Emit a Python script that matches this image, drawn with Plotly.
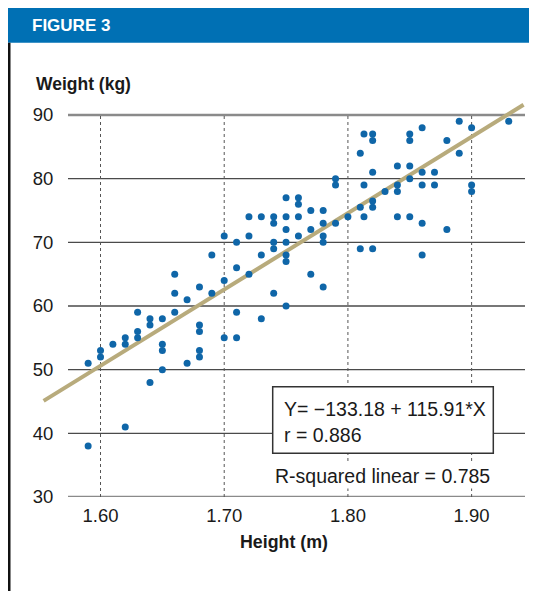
import plotly.graph_objects as go

# ---------------- data ----------------
heights = [
    1.69, 1.70, 1.66, 1.66, 1.68, 1.69, 1.67, 1.63, 1.66, 1.64, 1.65, 1.64, 1.63, 1.63, 1.68, 1.68,
    1.70, 1.61, 1.62, 1.62, 1.65, 1.65, 1.60, 1.60, 1.68, 1.68, 1.59, 1.67, 1.65, 1.64, 1.62, 1.59,
    1.79, 1.75, 1.76, 1.76, 1.77, 1.78, 1.72, 1.73, 1.74, 1.75, 1.76, 1.74, 1.78, 1.79, 1.75, 1.77,
    1.70, 1.72, 1.76, 1.78, 1.71, 1.74, 1.75, 1.78, 1.74, 1.73, 1.75, 1.75, 1.71, 1.72, 1.77, 1.78,
    1.74, 1.75, 1.71, 1.73, 1.71,
    1.89, 1.93, 1.90, 1.86, 1.813, 1.82, 1.85, 1.82, 1.85, 1.88, 1.81, 1.89, 1.84, 1.85, 1.82, 1.86,
    1.87, 1.79, 1.85, 1.813, 1.84, 1.86, 1.87, 1.90, 1.90, 1.83, 1.84, 1.82, 1.81, 1.82, 1.80, 1.813,
    1.84, 1.85, 1.86, 1.88, 1.81, 1.82, 1.86,
]
weights = [
    68, 64, 65, 62, 63, 62, 61, 59, 59, 58, 58, 57, 56, 55, 57, 56,
    55, 54, 55, 54, 54, 53, 53, 52, 53, 52, 51, 51, 50, 48, 41, 38,
    79, 77, 77, 76, 75, 75, 74, 74, 74, 74, 74, 73, 73, 73, 72, 72,
    71, 71, 71, 71, 70, 70, 70, 70, 69, 68, 68, 67, 66, 65, 65, 63,
    62, 60, 59, 58, 55,
    89, 89, 88, 88, 87, 87, 87, 86, 86, 86, 84, 84, 82, 82, 81, 81,
    81, 80, 80, 79, 79, 79, 79, 79, 78, 78, 78, 76.5, 75.5, 75.5, 74, 74,
    74, 74, 73, 72, 69, 69, 68,
]
fit_x = [1.554, 1.942]
fit_y = [45.1, 91.6]

x_ticks = [1.60, 1.70, 1.80, 1.90]
x_tick_labels = ["1.60", "1.70", "1.80", "1.90"]
y_ticks = [30, 40, 50, 60, 70, 80, 90]
y_tick_labels = ["30", "40", "50", "60", "70", "80", "90"]

equation_text = "Y= \u2212133.18 + 115.91*X"
r_text = "r = 0.886"
r2_text = "R-squared linear = 0.785"

# ---------------- layout geometry ----------------
# the page body has an 8px margin, so the figure is laid out 8px smaller
OFF = 8
W, H = 537 - OFF, 591 - OFF
PLOT_L, PLOT_R, PLOT_T, PLOT_B = 30, 530, 95, 497   # in page pixels
ML, MT = PLOT_L - OFF, PLOT_T - OFF
MR, MB = W - (PLOT_R - OFF), H - (PLOT_B - OFF)
X_RANGE = [1.5430, 1.9472]
Y_RANGE = [30, 93.14]
PW, PH = PLOT_R - PLOT_L, PLOT_B - PLOT_T


def pxx(px):
    return (px - PLOT_L) / PW


def pxy(py):
    return (PLOT_B - py) / PH


def dx(px):
    return X_RANGE[0] + pxx(px) * (X_RANGE[1] - X_RANGE[0])


def dy(py):
    return Y_RANGE[0] + pxy(py) * (Y_RANGE[1] - Y_RANGE[0])


REG = "Liberation Sans, Arial, sans-serif"
BLUE = "#0f66a8"
INK = "#1a1a1a"

fig = go.Figure()

fig.add_trace(go.Scatter(
    x=fit_x, y=fit_y, mode="lines",
    line=dict(color="#b8ab7c", width=4),
    hoverinfo="skip", showlegend=False,
))
fig.add_trace(go.Scatter(
    x=heights, y=weights, mode="markers",
    marker=dict(color=BLUE, size=7, line=dict(width=0)),
    showlegend=False,
))

shapes = []
for v in y_ticks:
    edge = v in (y_ticks[0], y_ticks[-1])
    shapes.append(dict(
        type="line", xref="x", yref="y", x0=dx(68), x1=dx(525), y0=v, y1=v,
        line=dict(color="#8a8a8a" if edge else "#4a4a4a", width=2.5 if edge else 1.3),
        layer="below",
    ))
for v in x_ticks:
    shapes.append(dict(
        type="line", xref="x", yref="y", x0=v, x1=v, y0=y_ticks[0], y1=y_ticks[-1],
        line=dict(color="#555555", width=1, dash="dot"),
        layer="below",
    ))
shapes.append(dict(
    type="rect", xref="x", yref="y",
    x0=dx(272.7), x1=dx(493.3), y0=dy(453.3), y1=dy(386.7),
    line=dict(color="#333333", width=1.5), fillcolor="white", layer="above",
))
shapes.append(dict(
    type="rect", xref="paper", yref="paper",
    x0=pxx(7.3), x1=pxx(545), y0=pxy(42.7), y1=pxy(7.3),
    line=dict(width=0), fillcolor="#0070b4", layer="above",
))
shapes.append(dict(
    type="line", xref="paper", yref="paper",
    x0=pxx(9.2), x1=pxx(9.2), y0=pxy(42.7), y1=pxy(600),
    line=dict(color="#111111", width=2.6), layer="above",
))

annotations = [
    dict(text="<b>FIGURE 3</b>", xref="paper", yref="paper", x=pxx(30), y=pxy(25.5),
         xanchor="left", yanchor="middle", showarrow=False,
         font=dict(family=REG, size=17, color="white")),
    dict(text="<b>Weight (kg)</b>", xref="paper", yref="paper", x=pxx(34), y=pxy(84),
         xanchor="left", yanchor="middle", showarrow=False,
         font=dict(family=REG, size=17.5, color=INK)),
    dict(text="<b>Height (m)</b>", xref="paper", yref="paper", x=pxx(284), y=pxy(542),
         xanchor="center", yanchor="middle", showarrow=False,
         font=dict(family=REG, size=17.8, color=INK)),
    dict(text=equation_text, xref="paper", yref="paper", x=pxx(282), y=pxy(409),
         xanchor="left", yanchor="middle", showarrow=False,
         font=dict(family=REG, size=19.5, color=INK)),
    dict(text=r_text, xref="paper", yref="paper", x=pxx(282), y=pxy(434.5),
         xanchor="left", yanchor="middle", showarrow=False,
         font=dict(family=REG, size=19.5, color=INK)),
    dict(text=r2_text, xref="paper", yref="paper", x=pxx(492), y=pxy(476),
         xanchor="right", yanchor="middle", showarrow=False, bgcolor="white",
         font=dict(family=REG, size=19.5, color=INK)),
]

fig.update_layout(
    width=W, height=H,
    margin=dict(l=ML, r=MR, t=MT, b=MB, pad=0),
    paper_bgcolor="white", plot_bgcolor="white",
    shapes=shapes, annotations=annotations,
    xaxis=dict(
        range=X_RANGE, showgrid=False, zeroline=False, showline=False,
        tickvals=x_ticks, ticktext=x_tick_labels,
        ticks="outside", ticklen=2, tickcolor="rgba(0,0,0,0)",
        tickfont=dict(family=REG, size=18.5, color=INK),
    ),
    yaxis=dict(
        range=Y_RANGE, showgrid=False, zeroline=False, showline=False,
        anchor="free", position=pxx(61),
        tickvals=y_ticks, ticktext=y_tick_labels,
        ticks="outside", ticklen=4, tickcolor="rgba(0,0,0,0)",
        tickfont=dict(family=REG, size=18.5, color=INK),
    ),
    showlegend=False,
)

fig.write_html("out.html")
